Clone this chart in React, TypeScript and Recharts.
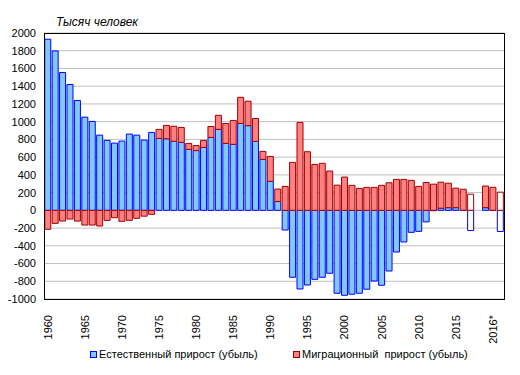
import React from 'react';
import { BarChart, Bar, XAxis, YAxis, CartesianGrid, Cell } from 'recharts';

const years = [
  '1960', '1961', '1962', '1963', '1964', '1965', '1966', '1967', '1968', '1969',
  '1970', '1971', '1972', '1973', '1974', '1975', '1976', '1977', '1978', '1979',
  '1980', '1981', '1982', '1983', '1984', '1985', '1986', '1987', '1988', '1989',
  '1990', '1991', '1992', '1993', '1994', '1995', '1996', '1997', '1998', '1999',
  '2000', '2001', '2002', '2003', '2004', '2005', '2006', '2007', '2008', '2009',
  '2010', '2011', '2012', '2013', '2014', '2015', '2016', '2017', '', '2015*',
  '2016*', '2017*',
];

// естественный прирост, тыс. человек
const natural = [
  1930, 1798, 1555, 1419, 1239, 1051, 1003, 848, 789, 758,
  781, 860, 848, 792, 879, 811, 807, 778, 766, 687,
  674, 710, 822, 913, 755, 744, 980, 955, 777, 575,
  327, 99, -222, -755, -887, -842, -778, -755, -710, -935,
  -958, -946, -935, -890, -797, -845, -684, -470, -357, -248,
  -237, -130, -4, 24, 30, 30, -2, -228, null, 30,
  -2, -239,
];

// миграционный прирост, тыс. человек
const migration = [
  -214, -147, -121, -98, -121, -166, -166, -177, -113, -83,
  -124, -113, -90, -66, -45, 102, 151, 170, 169, 68,
  57, 79, 124, 159, 225, 270, 295, 276, 259, 90,
  281, 141, 270, 541, 992, 661, 518, 530, 443, 284,
  375, 282, 248, 259, 259, 282, 311, 349, 349, 338,
  270, 314, 295, 293, 276, 220, 238, 182, null, 244,
  260, 205,
];

// предварительные данные (незакрашенные столбцы)
const preliminary = ['2017', '2017*'];

const yTicks = [-1000, -800, -600, -400, -200, 0, 200, 400, 600, 800, 1000, 1200, 1400, 1600, 1800, 2000];

const data = years.map((year, i) => ({ year, natural: natural[i], migration: migration[i] }));

const FONT = 'Arial, "Liberation Sans", sans-serif';

const XTick = ({ x, y, payload }: any) => (
  <text
    transform={`translate(${x},${y + 8}) rotate(-90)`}
    textAnchor="end"
    dy="0.36em"
    fontSize={11}
    fontFamily={FONT}
    fill="#000"
  >
    {payload.value}
  </text>
);

const LegendItem = ({ fill, stroke, label, left }: { fill: string; stroke: string; label: string; left: number }) => (
  <div style={{ position: 'absolute', left, top: 348, display: 'flex', alignItems: 'center', whiteSpace: 'pre' }}>
    <span style={{ width: 7, height: 7, background: fill, border: `1px solid ${stroke}`, boxSizing: 'border-box', marginRight: 2 }} />
    <span style={{ fontSize: 11, fontFamily: FONT, color: '#000' }}>{label}</span>
  </div>
);

export default function App() {
  return (
    <div style={{ position: 'absolute', left: 0, top: 0, width: 520, height: 375, background: '#fff' }}>
      <BarChart
        width={520}
        height={375}
        data={data}
        stackOffset="sign"
        barCategoryGap="10%"
        margin={{ top: 33, right: 16, left: 0, bottom: 0 }}
      >
        <CartesianGrid vertical={false} stroke="#c0c0c0" />
        <XAxis
          dataKey="year"
          interval={4}
          tickLine={false}
          axisLine={false}
          height={76}
          tick={<XTick />}
        />
        <YAxis
          width={44}
          domain={[-1000, 2000]}
          ticks={yTicks}
          interval={0}
          tickLine={false}
          axisLine={false}
          tick={{ fontSize: 11, fontFamily: FONT, fill: '#000' }}
        />
        <Bar dataKey="natural" stackId="s" fill="#80c8ff" stroke="#0000ff" strokeWidth={1} isAnimationActive={false}>
          {data.map((d) => (
            <Cell key={`n-${d.year}`} fill={preliminary.includes(d.year) ? '#fff' : '#80c8ff'} />
          ))}
        </Bar>
        <Bar dataKey="migration" stackId="s" fill="#ff8080" stroke="#a00000" strokeWidth={1} isAnimationActive={false}>
          {data.map((d) => (
            <Cell key={`m-${d.year}`} fill={preliminary.includes(d.year) ? '#fff' : '#ff8080'} />
          ))}
        </Bar>
      </BarChart>
      <div
        style={{
          position: 'absolute',
          left: 44,
          top: 33,
          width: 461,
          height: 267,
          border: '1px solid #000',
          boxSizing: 'border-box',
          pointerEvents: 'none',
        }}
      />
      <div style={{ position: 'absolute', left: 56, top: 15, fontSize: 12, fontStyle: 'italic', fontFamily: FONT, color: '#000' }}>
        Тысяч человек
      </div>
      <LegendItem fill="#80c8ff" stroke="#0000ff" label="Естественный прирост (убыль)" left={90} />
      <LegendItem fill="#ff8080" stroke="#a00000" label="Миграционный  прирост (убыль)" left={293} />
    </div>
  );
}
